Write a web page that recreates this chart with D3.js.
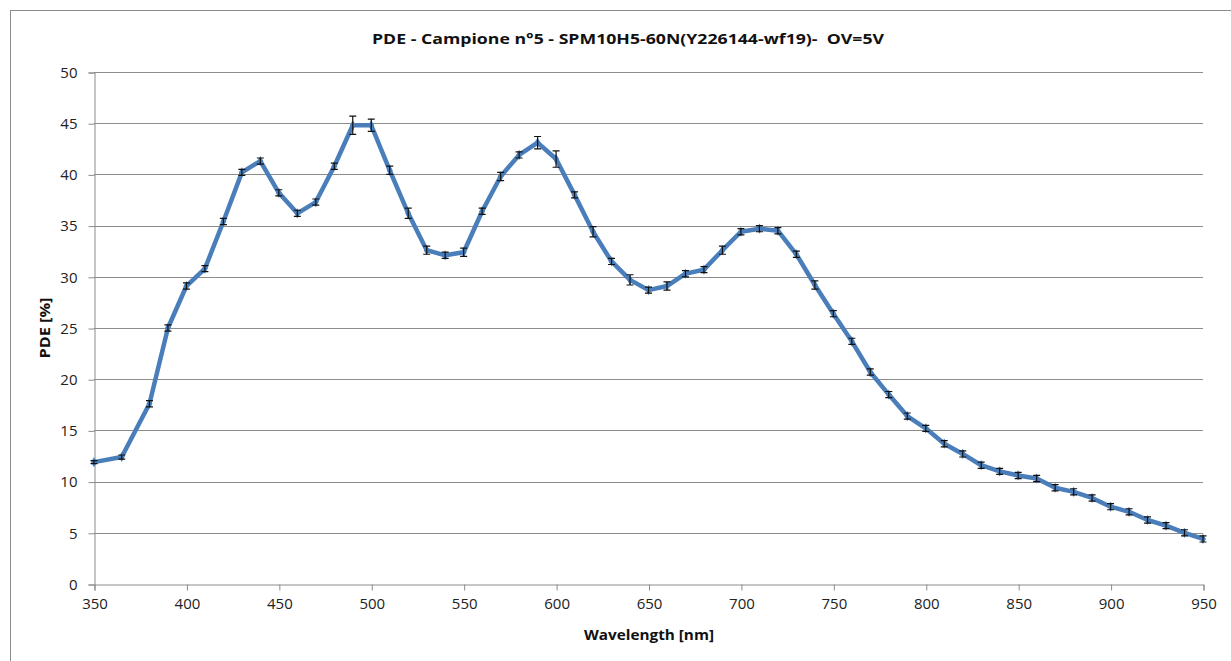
<!DOCTYPE html>
<html>
<head>
<meta charset="utf-8">
<script src="https://cdn.jsdelivr.net/npm/d3@7"></script>
<style>
  html, body { margin: 0; padding: 0; background: #fff; }
  svg { display: block; }
  text { white-space: pre; }
</style>
</head>
<body>
<svg id="chart" width="1231" height="661"></svg>
<script>
// Wavelength samples [nm]
const wavelengths = [350, 365, 380, 390, 400, 410, 420, 430, 440, 450, 460, 470, 480, 490, 500,
  510, 520, 530, 540, 550, 560, 570, 580, 590, 600, 610, 620, 630, 640, 650, 660, 670, 680, 690, 700,
  710, 720, 730, 740, 750, 760, 770, 780, 790, 800, 810, 820, 830, 840, 850, 860, 870, 880, 890, 900,
  910, 920, 930, 940, 950];
// Photon detection efficiency [%]
const pde = [11.9, 12.4, 17.6, 25.0, 29.1, 30.8, 35.4, 40.2, 41.3, 38.2, 36.2, 37.3, 40.8, 44.8, 44.8,
  40.4, 36.2, 32.6, 32.1, 32.4, 36.4, 39.8, 41.9, 43.1, 41.5, 38.0, 34.4, 31.5, 29.7, 28.7, 29.1, 30.3, 30.7, 32.6, 34.4,
  34.7, 34.5, 32.2, 29.2, 26.4, 23.7, 20.7, 18.5, 16.4, 15.2, 13.7, 12.7, 11.6, 11.0, 10.6, 10.3, 9.4, 9.0, 8.4, 7.55,
  7.05, 6.25, 5.7, 5.0, 4.4];
// Measurement uncertainty (±) [%]
const pdeErr = [0.15, 0.2, 0.3, 0.3, 0.3, 0.3, 0.3, 0.3, 0.3, 0.3, 0.3, 0.3, 0.3, 0.9, 0.6,
  0.4, 0.5, 0.4, 0.3, 0.4, 0.3, 0.4, 0.3, 0.6, 0.8, 0.3, 0.5, 0.3, 0.5, 0.3, 0.4, 0.3, 0.3, 0.4, 0.3,
  0.3, 0.3, 0.3, 0.4, 0.3, 0.3, 0.3, 0.3, 0.3, 0.3, 0.3, 0.3, 0.3, 0.3, 0.3, 0.3, 0.3, 0.3, 0.3, 0.3,
  0.3, 0.3, 0.3, 0.3, 0.3];
const xTicks = [350, 400, 450, 500, 550, 600, 650, 700, 750, 800, 850, 900, 950];
const yTicks = [0, 5, 10, 15, 20, 25, 30, 35, 40, 45, 50];

const titleText = "PDE - Campione n°5 - SPM10H5-60N(Y226144-wf19)-  OV=5V";
const xLabel = "Wavelength [nm]";
const yLabel = "PDE [%]";

const svg = d3.select("#chart");
const font = "'Open Sans', 'Noto Sans', sans-serif";

// Outer chart frame
svg.append("rect")
  .attr("x", 10.5).attr("y", 10.5)
  .attr("width", 1240).attr("height", 680)
  .attr("fill", "#fff").attr("stroke", "#8c8c8c").attr("stroke-width", 1);

const plot = { left: 94, right: 1203, top: 72, bottom: 584 };

const x = d3.scaleLinear().domain([350, 950]).range([plot.left, plot.right]);
const y = d3.scaleLinear().domain([0, 50]).range([plot.bottom, plot.top]);

// Horizontal gridlines
svg.append("g")
  .selectAll("line")
  .data(yTicks.filter(v => v > 0))
  .join("line")
  .attr("x1", plot.left).attr("x2", plot.right)
  .attr("y1", d => Math.round(y(d)) + 0.5).attr("y2", d => Math.round(y(d)) + 0.5)
  .attr("stroke", "#8c8c8c").attr("stroke-width", 1);

// Y axis
const yAxis = svg.append("g")
  .attr("transform", `translate(${plot.left + 0.5},0.5)`)
  .call(d3.axisLeft(y).tickValues(yTicks).tickSize(6).tickPadding(11).tickFormat(d3.format("d")));
yAxis.select(".domain").attr("stroke", "#8c8c8c");
yAxis.selectAll(".tick line").attr("stroke", "#8c8c8c");
yAxis.selectAll("text").attr("font-family", font).attr("font-size", 15).attr("fill", "#222");

// X axis
const xAxis = svg.append("g")
  .attr("transform", `translate(0.5,${plot.bottom + 0.5})`)
  .call(d3.axisBottom(x).tickValues(xTicks).tickSize(6).tickPadding(8).tickFormat(d3.format("d")));
xAxis.select(".domain").attr("stroke", "#8c8c8c");
xAxis.selectAll(".tick line").attr("stroke", "#8c8c8c");
xAxis.selectAll("text").attr("font-family", font).attr("font-size", 15).attr("fill", "#222");

const points = wavelengths.map((w, i) => ({ w, v: pde[i], e: pdeErr[i] }));

// Measured curve
svg.append("path")
  .datum(points)
  .attr("fill", "none")
  .attr("stroke", "#4a7ebb")
  .attr("stroke-width", 4.5)
  .attr("stroke-linejoin", "round")
  .attr("d", d3.line().x(d => x(d.w)).y(d => y(d.v)));

// Diamond markers
svg.append("g")
  .selectAll("path")
  .data(points)
  .join("path")
  .attr("transform", d => `translate(${x(d.w)},${y(d.v)})`)
  .attr("d", d3.symbol(d3.symbolDiamond, 30))
  .attr("fill", "#4a7ebb");

// Error bars
const eb = svg.append("g").attr("stroke", "#111").attr("stroke-width", 1.2).attr("fill", "none");
eb.selectAll("path")
  .data(points)
  .join("path")
  .attr("d", d => {
    const cx = x(d.w), y1 = y(d.v + d.e), y2 = y(d.v - d.e);
    return `M${cx - 3.5},${y1}H${cx + 3.5}M${cx},${y1}V${y2}M${cx - 3.5},${y2}H${cx + 3.5}`;
  });

// Title and axis titles
svg.append("text")
  .attr("x", 628).attr("y", 44)
  .attr("text-anchor", "middle")
  .attr("font-family", font).attr("font-weight", "bold").attr("font-size", 14)
  .attr("fill", "#111")
  .attr("textLength", 512).attr("lengthAdjust", "spacingAndGlyphs")
  .text(titleText);

svg.append("text")
  .attr("x", 649).attr("y", 640)
  .attr("text-anchor", "middle")
  .attr("font-family", font).attr("font-weight", "bold").attr("font-size", 15)
  .attr("fill", "#111")
  .attr("textLength", 130).attr("lengthAdjust", "spacingAndGlyphs")
  .text(xLabel);

svg.append("text")
  .attr("transform", "translate(50,328) rotate(-90)")
  .attr("text-anchor", "middle")
  .attr("font-family", font).attr("font-weight", "bold").attr("font-size", 15)
  .attr("fill", "#111")
  .attr("textLength", 61).attr("lengthAdjust", "spacingAndGlyphs")
  .text(yLabel);
</script>
</body>
</html>
